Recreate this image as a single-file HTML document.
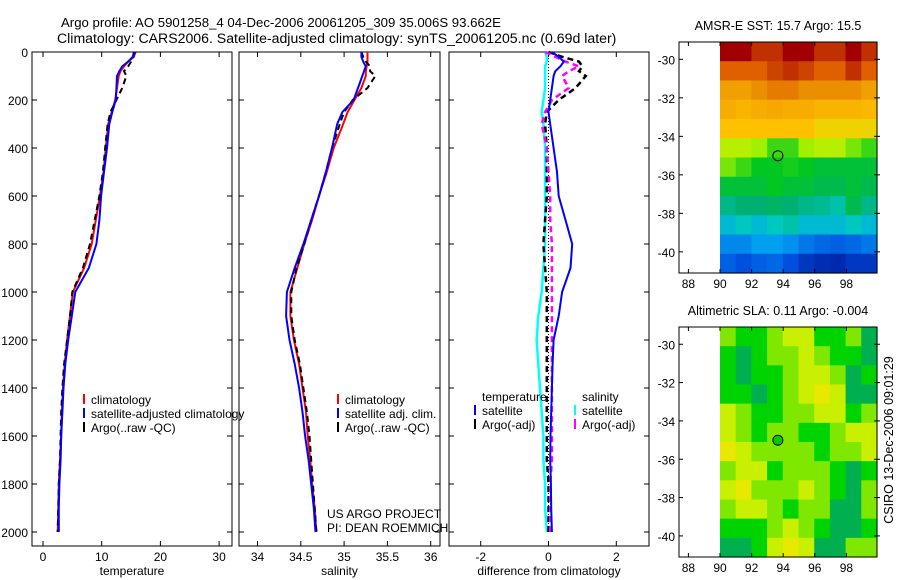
<!DOCTYPE html>
<html><head><meta charset="utf-8"><style>
html,body{margin:0;padding:0;background:#fff}
svg{display:block}
text{font-family:"Liberation Sans",sans-serif;fill:#000}
</style></head><body>
<svg id="c" width="900" height="580" viewBox="0 0 900 580" xmlns="http://www.w3.org/2000/svg">
<text x="61" y="27" font-size="13.2">Argo profile: AO 5901258_4 04-Dec-2006 20061205_309 35.006S 93.662E</text>
<text x="57" y="43" font-size="14.1">Climatology: CARS2006. Satellite-adjusted climatology: synTS_20061205.nc (0.69d later)</text>
<g id="p1"></g>
<g id="p2"></g>
<g id="p3"></g>
<g id="m1"></g>
<g id="m2"></g>
<text transform="translate(893,440) rotate(-90)" font-size="12.5" text-anchor="middle">CSIRO 13-Dec-2006 09:01:29</text>
</svg>
<script>
const depths=[0,20,40,60,80,100,150,200,250,300,400,500,600,700,800,900,1000,1100,1200,1300,1400,1500,1600,1700,1800,1900,2000];
const tempClim=[15.7,15.5,14.5,13.8,13.2,12.9,12.6,12.3,11.7,11.1,10.7,10.3,9.7,9.0,8.3,7.0,5.1,4.6,4.1,3.7,3.4,3.2,3.1,2.9,2.7,2.6,2.5];
const tempSat=[15.8,15.3,14.5,13.5,13.0,12.6,12.5,12.4,11.8,11.3,10.9,10.4,9.9,9.6,9.1,7.8,5.5,4.9,4.3,3.8,3.5,3.3,3.1,3.0,2.8,2.7,2.7];
const tempArgo=[15.5,15.3,15.0,14.5,13.8,14.2,13.5,12.5,11.5,11.0,10.6,10.2,9.6,8.8,8.0,6.8,5.0,4.6,4.1,3.6,3.3,3.1,3.0,2.9,2.7,2.6,2.5];
const salClim=[35.27,35.27,35.27,35.26,35.25,35.25,35.2,35.12,35.04,34.99,34.88,34.8,34.71,34.63,34.54,34.46,34.38,34.38,34.42,34.48,34.52,34.56,34.58,34.61,34.63,34.66,34.68];
const salSat=[35.2,35.2,35.22,35.25,35.23,35.21,35.16,35.11,34.98,34.92,34.86,34.79,34.71,34.62,34.53,34.43,34.34,34.33,34.37,34.43,34.48,34.52,34.55,34.59,34.62,34.65,34.67];
const salArgo=[35.2,35.22,35.25,35.3,35.3,35.36,35.27,35.1,35.0,34.95,34.86,34.79,34.71,34.62,34.54,34.45,34.39,34.39,34.43,34.49,34.53,34.57,34.6,34.62,34.64,34.66,34.68];
const dTempSat=[0.1,0.3,0.45,0.35,0.2,0.15,0.1,0.05,0.0,0.05,0.15,0.25,0.3,0.5,0.7,0.65,0.4,0.3,0.15,0.12,0.1,0.08,0.06,0.05,0.07,0.08,0.1];
const dTempArgo=[0.0,0.4,0.9,1.0,0.9,1.1,0.8,0.3,-0.05,-0.1,-0.05,-0.05,-0.05,-0.1,-0.15,-0.1,-0.05,-0.05,-0.05,-0.05,-0.05,-0.05,-0.05,-0.05,0.0,0.0,0.0];
const dSalSat=[-0.1,-0.05,-0.05,-0.1,-0.1,-0.1,-0.1,-0.15,-0.2,-0.15,-0.1,-0.1,-0.1,-0.1,-0.1,-0.15,-0.2,-0.3,-0.35,-0.3,-0.25,-0.2,-0.15,-0.15,-0.1,-0.1,-0.05];
const dSalArgo=[-0.1,0.2,0.5,0.9,0.6,0.4,0.6,0.1,-0.1,-0.2,-0.05,0.0,0.05,0.05,0.1,0.1,0.1,0.1,0.1,0.1,0.1,0.1,0.1,0.1,0.05,0.05,0.05];
const depthTicks=[0,200,400,600,800,1000,1200,1400,1600,1800,2000];
const tempTicks=[0,10,20,30];
const salTicks=[34,34.5,35,35.5,36];
const salTickLabels=["34","34.5","35","35.5","36"];
const diffTicks=[-2,0,2];
const mapLons=[88,90,92,94,96,98];
const mapLats=[-30,-32,-34,-36,-38,-40];
const sstGrid=[
[19.5,19.5,19,19,19.5,19.5,19,19,19.5,19],
[18.5,18.5,18.5,18.8,19,18.8,18.5,18.5,19,18.5],
[17.8,17.8,18,18.2,18.2,18,18,18,18,17.8],
[17.5,17.3,17.5,17.6,17.5,17.5,17.3,17.3,17.3,17.2],
[17,17,17,17,17,17,16.8,16.8,16.8,16.8],
[16.2,16.2,16,15.5,15.5,16,16.2,16.2,15.8,15.5],
[15.8,15.5,15.2,15.2,15.3,15.2,15,15,15,15],
[15,15,15,15.2,15,15,14.8,14.8,15,14.8],
[14.3,14.5,14.5,14.6,14.5,14.3,14.2,14,14.8,14.3],
[13.5,13.8,13.5,13.8,14,13.5,13.5,13.5,13.8,13.5],
[12.7,12.7,13,13,12.8,12.5,12.3,12.2,12.3,12.5],
[12.2,12,12.2,12.3,12,11.5,11.3,11.2,11.5,11.5]];
const slaGrid=[
[2,1,1,2,3,3,1,1,2,0],
[1,0,1,2,2,3,2,1,1,0],
[1,0,1,1,2,3,3,2,0,1],
[1,1,0,1,2,3,4,3,0,0],
[3,2,1,1,2,2,3,3,1,2],
[3,2,1,2,2,1,1,2,3,3],
[4,3,2,2,2,2,1,2,2,3],
[2,3,3,1,2,2,2,1,0,1],
[3,4,2,2,2,3,2,1,0,2],
[2,3,3,2,1,2,2,0,0,2],
[1,1,1,2,3,2,1,0,0,1],
[0,0,1,3,4,3,0,0,2,2]];
const argoLon=93.662, argoLat=-35.006;

const NS="http://www.w3.org/2000/svg";
function mk(p,t,a){const e=document.createElementNS(NS,t);for(const k in a)e.setAttribute(k,a[k]);p.appendChild(e);return e;}
const Y=d=>52+d*0.24;
const TOP=52,BOT=546;

function panel(g,x0,x1,xs,ticks,labels,xlabel,nm){
  for(let i=0;i<ticks.length;i++){
    const x=xs(ticks[i]);
    mk(g,'line',{x1:x,x2:x,y1:BOT,y2:BOT-5,stroke:'#000'});
    mk(g,'line',{x1:x,x2:x,y1:TOP,y2:TOP+5,stroke:'#000'});
    const t=mk(g,'text',{x:x,y:BOT+15,'font-size':12,'text-anchor':'middle'});t.textContent=labels[i];
    
    
  }
  depthTicks.forEach(d=>{
    mk(g,'line',{x1:x0,x2:x0+5,y1:Y(d),y2:Y(d),stroke:'#000'});
    mk(g,'line',{x1:x1,x2:x1-5,y1:Y(d),y2:Y(d),stroke:'#000'});
    if(nm==='t'){const t=mk(g,'text',{x:28,y:Y(d)+5,'font-size':12,'text-anchor':'end'});t.textContent=d;
      
      }
  });
  const b=mk(g,'rect',{x:x0,y:TOP,width:x1-x0,height:BOT-TOP,fill:'none',stroke:'#000'});
  
  
  const l=mk(g,'text',{x:(x0+x1)/2,y:575,'font-size':12,'text-anchor':'middle'});l.textContent=xlabel;
  
  
}
function series(g,vals,xs,color,dash,w,name){
  const pts=vals.map((v,i)=>xs(v).toFixed(1)+','+Y(depths[i]).toFixed(1)).join(' ');
  const a={points:pts,fill:'none',stroke:color,'stroke-width':w};
  if(dash)a['stroke-dasharray']=dash;
  const e=mk(g,'polyline',a);
  
  
}
function legend(g,x,y,color,label,nm){
  if(color){mk(g,'line',{x1:x,x2:x,y1:y-10,y2:y,stroke:color,'stroke-width':2});}
  const t=mk(g,'text',{x:x+7,y:y,'font-size':12});t.textContent=label;
  
  
}
const p1=document.getElementById('p1');
const xT=v=>43+v*5.87;
panel(p1,32,232,xT,tempTicks,tempTicks.map(String),'temperature','t');
series(p1,tempClim,xT,'#ff0000',null,2,'temp-climatology-line');
series(p1,tempArgo,xT,'#000',"6,4",2,'temp-argo-line');
series(p1,tempSat,xT,'#0000ff',null,2,'temp-satellite-line');
legend(p1,84,404,'#ff0000','climatology','legend-climatology');
legend(p1,84,418,'#0000ff','satellite-adjusted climatology','legend-satellite');
legend(p1,84,432,'#000','Argo(..raw -QC)','legend-argo');
const p2=document.getElementById('p2');
const xS=v=>257.5+(v-34)*86.6;
panel(p2,239,440,xS,salTicks,salTickLabels,'salinity','s');
series(p2,salClim,xS,'#ff0000',null,2,'sal-climatology-line');
series(p2,salArgo,xS,'#000',"6,4",2,'sal-argo-line');
series(p2,salSat,xS,'#0000ff',null,2,'sal-satellite-line');
legend(p2,338,404,'#ff0000','climatology','legend-climatology');
legend(p2,338,418,'#0000ff','satellite adj. clim.','legend-satellite');
legend(p2,338,432,'#000','Argo(..raw -QC)','legend-argo');
const u1=mk(p2,'text',{x:327,y:518,'font-size':12});u1.textContent='US ARGO PROJECT';


const u2=mk(p2,'text',{x:327,y:532,'font-size':12});u2.textContent='PI: DEAN ROEMMICH';


const p3=document.getElementById('p3');
const xD=v=>548.5+v*33.9;
panel(p3,449,649,xD,diffTicks,diffTicks.map(String),'difference from climatology','d');
mk(p3,'line',{x1:xD(0),x2:xD(0),y1:Y(0),y2:Y(2000),stroke:'#000','stroke-dasharray':'1,2'});
series(p3,dSalSat,xD,'#00ffff',null,2.5,'sal-satellite-diff-line');
series(p3,dTempArgo,xD,'#000',"6,4",2.5,'temp-argo-diff-line');
series(p3,dSalArgo,xD,'#ff00ff',"6,4",2.5,'sal-argo-diff-line');
series(p3,dTempSat,xD,'#0000ff',null,2,'temp-satellite-diff-line');
legend(p3,475,401,null,'temperature','legend-temperature-header');
legend(p3,475,415,'#0000ff','satellite','legend-temp-satellite');
legend(p3,475,429,'#000','Argo(-adj)','legend-temp-argo');
legend(p3,575,401,null,'salinity','legend-salinity-header');
legend(p3,575,415,'#00ffff','satellite','legend-sal-satellite');
legend(p3,575,429,'#ff00ff','Argo(-adj)','legend-sal-argo');

const sstStops=[[11,[0,32,160]],[12,[0,80,224]],[13,[0,160,240]],[13.8,[0,200,192]],[14.5,[0,176,112]],[15.2,[0,200,32]],[16,[160,240,0]],[16.5,[216,240,0]],[17,[255,192,0]],[17.8,[240,160,0]],[18.5,[224,96,0]],[19,[192,48,0]],[19.5,[160,0,0]]];
function sstColor(v){
  if(v<=sstStops[0][0])return 'rgb('+sstStops[0][1]+')';
  for(let i=1;i<sstStops.length;i++){if(v<=sstStops[i][0]){const a=sstStops[i-1],b=sstStops[i],f=(v-a[0])/(b[0]-a[0]);
    return 'rgb('+a[1].map((c,k)=>Math.round(c+(b[1][k]-c)*f)).join(',')+')';}}
  return 'rgb('+sstStops[sstStops.length-1][1]+')';
}
const slaColors=['#00b050','#00d400','#80e800','#c8f000','#e8e800'];
function map(g,top,bot,title,grid,colorFn,dotFill,nm){
  const L=679,R=877,lx=v=>720+(v-90)*15.8;
  const latTop=-29.1,latBot=-41.1,ly=v=>top+(latTop-v)*(bot-top)/(latTop-latBot);
  const t=mk(g,'text',{x:778,y:top-12,'font-size':12.5,'text-anchor':'middle'});t.textContent=title;
  
  
  const cw=(R-720)/10,ch=(bot-top)/12;
  grid.forEach((row,r)=>row.forEach((v,c)=>{
    const e=mk(g,'rect',{x:(720+c*cw).toFixed(2),y:(top+r*ch).toFixed(2),width:(cw+0.6).toFixed(2),height:(ch+0.6).toFixed(2),fill:colorFn(v)});
    
    
  }));
  mapLons.forEach(v=>{const x=lx(v);
    mk(g,'line',{x1:x,x2:x,y1:top,y2:top+4,stroke:'#000'});
    mk(g,'line',{x1:x,x2:x,y1:bot,y2:bot-4,stroke:'#000'});
    const tt=mk(g,'text',{x:x,y:bot+15,'font-size':12,'text-anchor':'middle'});tt.textContent=v;
    
    });
  mapLats.forEach(v=>{const y=ly(v);
    mk(g,'line',{x1:L,x2:L+4,y1:y,y2:y,stroke:'#000'});
    mk(g,'line',{x1:R-3,x2:R+3,y1:y,y2:y,stroke:'#000'});
    const tt=mk(g,'text',{x:675,y:y+5,'font-size':12,'text-anchor':'end'});tt.textContent=v;
    
    });
  mk(g,'rect',{x:L,y:top,width:R-L,height:bot-top,fill:'none',stroke:'#000'});
  const d=mk(g,'circle',{cx:lx(argoLon),cy:ly(argoLat),r:5,fill:dotFill,stroke:'#000'});
  
  
}
map(document.getElementById('m1'),42,273,'AMSR-E SST: 15.7 Argo: 15.5',sstGrid,sstColor,'none','sst');
map(document.getElementById('m2'),327,557,'Altimetric SLA: 0.11 Argo: -0.004',slaGrid,v=>slaColors[v],'#00cc00','sla');
</script>
</body></html>
